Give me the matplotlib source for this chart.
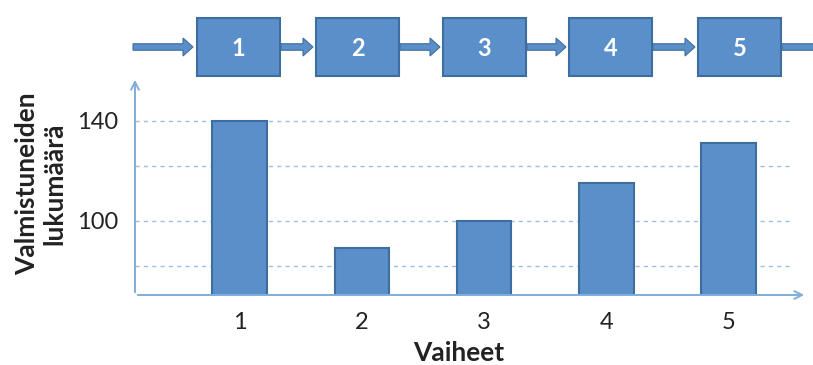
import matplotlib.pyplot as plt
from matplotlib.patches import Rectangle, FancyArrow

plt.rcParams['font.family'] = ['Lato', 'DejaVu Sans']

# graduates per phase
phases = ['1', '2', '3', '4', '5']
graduates = [140, 89, 100, 115, 131]
y_ticks = [100, 140]
grid_levels = [82, 100, 122, 140]

bar_face = '#5B8FC9'
bar_edge = '#3E6E9F'
axis_col = '#7FAEDC'
text_col = '#222222'

fig = plt.figure(figsize=(8.13, 3.65), dpi=100)

# bar chart
ax = fig.add_axes([135 / 813, 70 / 365, 670 / 813, 217 / 365])
x = range(1, len(phases) + 1)
ax.bar(x, graduates, width=0.45, color=bar_face, edgecolor=bar_edge, linewidth=1.5, zorder=3)
for g in grid_levels:
    ax.axhline(g, xmax=0.978, color='#9DBDE2', linestyle=(0, (3, 3)), linewidth=1.0, zorder=1)
ax.set_xlim(0.14, 5.63)
ax.set_ylim(70.4, 157)
ax.set_xticks(list(x))
ax.set_xticklabels(phases, fontsize=17, color=text_col)
ax.set_yticks(y_ticks)
ax.set_yticklabels([str(v) for v in y_ticks], fontsize=17, color=text_col)
ax.tick_params(length=0)
ax.tick_params(axis='x', pad=12.5)
ax.tick_params(axis='y', pad=12)
for s in ax.spines.values():
    s.set_visible(False)
ax.patch.set_alpha(0)

# overlay in pixel coordinates for labels, axis arrows and the phase flow
ov = fig.add_axes([0, 0, 1, 1])
ov.set_xlim(0, 813)
ov.set_ylim(365, 0)
ov.axis('off')
ov.patch.set_alpha(0)

ov.text(459, 361, 'Vaiheet', fontsize=19, fontweight='bold', color=text_col,
        ha='center', va='baseline')
ov.text(41, 184, 'Valmistuneiden\nlukumäärä', fontsize=19, fontweight='bold', color=text_col,
        rotation=90, ha='center', va='center', multialignment='center', linespacing=1.15)

ov.annotate('', xy=(135, 77), xytext=(135, 295),
            arrowprops=dict(arrowstyle='->', color=axis_col, lw=1.4, mutation_scale=14))
ov.annotate('', xy=(807, 295), xytext=(135, 295),
            arrowprops=dict(arrowstyle='->', color=axis_col, lw=1.4, mutation_scale=14))

box_w, box_h = 83, 58
box_top = 18
box_lefts = [197, 316, 443, 569, 698]
mid_y = box_top + box_h / 2


def flow_arrow(x0, x1):
    ov.add_patch(FancyArrow(x0, mid_y, x1 - x0, 0, width=6.5, head_width=18, head_length=10,
                            length_includes_head=True, facecolor=bar_face, edgecolor=bar_edge,
                            linewidth=0.8))


flow_arrow(133, 193)
for i, (left, lab) in enumerate(zip(box_lefts, phases)):
    ov.add_patch(Rectangle((left, box_top), box_w, box_h, facecolor=bar_face,
                           edgecolor=bar_edge, linewidth=1.5))
    ov.text(left + box_w / 2, mid_y + 1, lab, color='white', fontsize=17,
            fontweight='bold', ha='center', va='center')
    end = box_lefts[i + 1] - 3 if i + 1 < len(box_lefts) else 830
    flow_arrow(left + box_w + 1, end)

fig.savefig('out.png', dpi=100)
